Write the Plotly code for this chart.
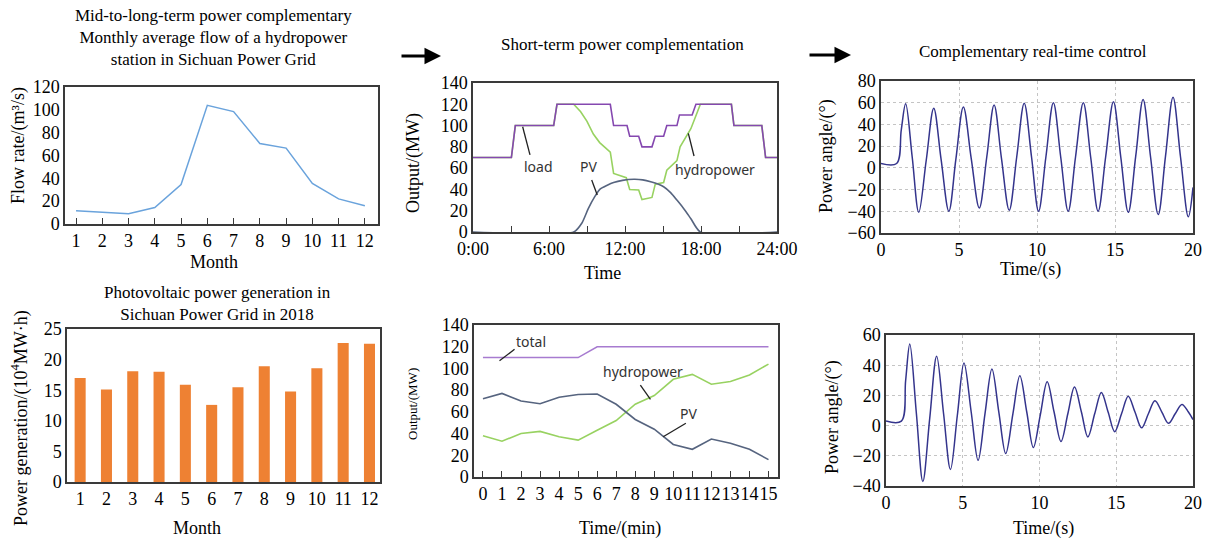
import plotly.graph_objects as go

W, H = 1208, 540

# ---------------- data ----------------
months = list(range(1, 13))
flow_rate = [11.5, 10, 9, 14.5, 34.5, 104, 98.5, 70.5, 66.5, 35.5, 22, 16]

pv_gen = [17.0, 15.1, 18.1, 18.0, 15.9, 12.6, 15.5, 18.9, 14.8, 18.6, 22.7, 22.6]

load_t = [0, 3.03, 3.34, 6.37, 6.63, 10.84, 11.1, 12.16, 12.37, 13.08, 13.34, 14.13, 14.39,
          15.05, 15.3, 16.1, 16.3, 17.3, 17.6, 20.4, 20.6, 22.8, 23.1, 24]
load_v = [70, 70, 100, 100, 120, 120, 100, 100, 90, 90, 80, 80, 90,
          90, 100, 100, 110, 110, 120, 120, 100, 100, 70, 70]

hydro_t = [0, 3.03, 3.34, 6.37, 6.63, 7.95, 8.5, 9.0, 9.5, 10.0, 10.84, 11.1, 12.1, 12.37,
           13.08, 13.34, 14.13, 14.39, 15.05, 15.3, 16.1, 16.35, 17.2, 17.55, 17.95, 20.4,
           20.6, 22.8, 23.1, 24]
hydro_v = [70, 70, 100, 100, 120, 120, 113, 104, 92, 84, 75, 55, 51, 40,
           39.5, 30.5, 32.5, 45, 46.5, 58, 67, 80, 97, 108, 120, 120,
           100, 100, 70, 70]

pv_t = [0, 7.95, 8.6, 9.1, 9.6, 10.05, 10.6, 11.1, 11.8, 12.7, 13.4, 14.1, 14.6, 15.05,
        15.6, 16.1, 16.7, 17.2, 17.95, 24]
pv_v = [0, 0, 8.5, 22, 33, 40.5, 44, 46.5, 48.5, 49.5, 49, 47, 45, 42.5,
        37, 30, 21, 12.5, 0, 0]

angle1_t = [0, 1.0, 1.3, 1.58, 2.0, 2.42, 2.9, 3.38, 3.85, 4.35, 4.8, 5.28, 5.78, 6.3, 6.78,
            7.25, 7.72, 8.22, 8.7, 9.18, 9.65, 10.1, 10.57, 11.05, 11.52, 12.0, 12.47, 12.97,
            13.44, 13.92, 14.4, 14.9, 15.37, 15.85, 16.33, 16.8, 17.28, 17.77, 18.24, 18.72,
            19.2, 19.7, 20]
angle1_v = [4, 4, 35, 59, 10, -41, 7, 55, 8, -40, 8, 56, 9, -37, 10,
            58, 9, -39, 10, 59.5, 10, -40, 10, 60, 10, -40, 10, 60,
            10, -40, 10, 61, 10, -41, 11, 63, 10, -43, 11, 65,
            10, -45, -18]

angle2_t = [0, 1.0, 1.28, 1.55, 1.98, 2.4, 2.85, 3.3, 3.75, 4.2, 4.65, 5.08, 5.55, 6.0, 6.45,
            6.9, 7.35, 7.8, 8.27, 8.72, 9.17, 9.6, 10.05, 10.5, 10.95, 11.4, 11.85, 12.28,
            12.73, 13.15, 13.6, 14.03, 14.47, 14.9, 15.35, 15.78, 16.22, 16.65, 17.1, 17.52,
            17.97, 18.4, 18.85, 19.28, 19.7, 20]
angle2_v = [3, 3, 30, 54, 8, -37, 5, 46, 8, -29, 7, 41.5, 9, -23, 8,
            37.5, 9, -18.5, 8, 33, 9, -14.5, 7, 29, 9, -10.5, 8, 25.5,
            9, -7.5, 8, 22, 9, -4, 8, 19.5, 9, -1.5, 8, 16.5,
            9, 1.5, 8, 14, 9, 4]

min_t = list(range(16))
total_v = [110, 110, 110, 110, 110, 110, 120, 120, 120, 120, 120, 120, 120, 120, 120, 120]
hydro2_v = [38, 33, 40, 42, 37, 34, 43, 52, 67, 75, 90, 94.5, 85.5, 88, 94, 104]
pv2_v = [72, 77, 70, 67.5, 73.5, 76, 76.5, 67, 53, 44, 30, 25.5, 35, 31, 25.5, 16]

hour_ticks = [0, 6, 12, 18, 24]
hour_labels = ["0:00", "6:00", "12:00", "18:00", "24:00"]

# ---------------- styles ----------------
SERIF = "Liberation Serif"
SANS = "Noto Sans"
AX = "#3a3a3a"
PURPLE = "#8548b0"
GREEN = "#98d261"
SLATE = "#56647f"
NAVY = "#34348c"


def xd(a, b):
    return [a / W, b / W]


def yd(top, bottom):
    return [1 - bottom / H, 1 - top / H]


def base_axis(**kw):
    d = dict(showline=True, linecolor=AX, linewidth=1.5, mirror=True, automargin=False,
             showgrid=False, zeroline=False, ticks="", tickangle=0,
             tickfont=dict(family=SERIF, size=18, color="#000"))
    d.update(kw)
    return d


fig = go.Figure()

# Panel 1
fig.add_trace(go.Scatter(x=months, y=flow_rate, mode="lines",
                         line=dict(color="#6aa3dc", width=1.5), xaxis="x", yaxis="y"))
# Panel 2
fig.add_trace(go.Scatter(x=hydro_t, y=hydro_v, mode="lines",
                         line=dict(color=GREEN, width=1.6), xaxis="x2", yaxis="y2"))
fig.add_trace(go.Scatter(x=load_t, y=load_v, mode="lines",
                         line=dict(color=PURPLE, width=1.6), xaxis="x2", yaxis="y2"))
fig.add_trace(go.Scatter(x=pv_t, y=pv_v, mode="lines",
                         line=dict(color=SLATE, width=1.6, shape="spline", smoothing=0.6),
                         xaxis="x2", yaxis="y2"))
# Panel 3
fig.add_trace(go.Scatter(x=angle1_t, y=angle1_v, mode="lines",
                         line=dict(color=NAVY, width=1.5, shape="spline", smoothing=1.0),
                         xaxis="x3", yaxis="y3"))
# Panel 4
fig.add_trace(go.Bar(x=months, y=pv_gen, marker=dict(color="#ee8133", line=dict(width=0)),
                     width=0.42, xaxis="x4", yaxis="y4"))
# Panel 5
fig.add_trace(go.Scatter(x=min_t, y=total_v, mode="lines",
                         line=dict(color="#a77bd0", width=1.6), xaxis="x5", yaxis="y5"))
fig.add_trace(go.Scatter(x=min_t, y=hydro2_v, mode="lines",
                         line=dict(color=GREEN, width=1.6), xaxis="x5", yaxis="y5"))
fig.add_trace(go.Scatter(x=min_t, y=pv2_v, mode="lines",
                         line=dict(color=SLATE, width=1.6), xaxis="x5", yaxis="y5"))
# Panel 6
fig.add_trace(go.Scatter(x=angle2_t, y=angle2_v, mode="lines",
                         line=dict(color=NAVY, width=1.5, shape="spline", smoothing=1.0),
                         xaxis="x6", yaxis="y6"))

grid = dict(showgrid=True, gridcolor="#c4c4c4", griddash="dot", gridwidth=1)

fig.update_layout(
    template="none",
    width=W, height=H, margin=dict(l=0, r=0, t=0, b=0, autoexpand=False),
    paper_bgcolor="white", plot_bgcolor="white", showlegend=False,
    xaxis=base_axis(domain=xd(65, 378), anchor="y", range=[0.58, 12.5],
                    tickvals=months, ticks="inside", ticklen=6, tickcolor=AX),
    yaxis=base_axis(domain=yd(87, 224), anchor="x", range=[0, 120], dtick=20),
    xaxis2=base_axis(domain=xd(473, 777), anchor="y2", range=[0, 24],
                     tickvals=hour_ticks, ticktext=hour_labels,
                     ticks="inside", ticklen=6, tickcolor=AX,
                     minor=dict(tickvals=[3, 9, 15, 21], ticks="inside", ticklen=6, tickcolor=AX)),
    yaxis2=base_axis(domain=yd(83, 232), anchor="x2", range=[0, 140], dtick=20),
    xaxis3=base_axis(domain=xd(881, 1193), anchor="y3", range=[0, 20], dtick=5, **grid),
    yaxis3=base_axis(domain=yd(81, 233), anchor="x3", range=[-60, 80], dtick=20, **grid),
    xaxis4=base_axis(domain=xd(67, 380), anchor="y4", range=[0.5, 12.4], tickvals=months),
    yaxis4=base_axis(domain=yd(329, 482), anchor="x4", range=[0, 25], dtick=5),
    xaxis5=base_axis(domain=xd(474, 778), anchor="y5", range=[-0.47, 15.5], tickvals=min_t,
                     ticks="inside", ticklen=6, tickcolor=AX),
    yaxis5=base_axis(domain=yd(325, 477), anchor="x5", range=[0, 140], dtick=20),
    xaxis6=base_axis(domain=xd(886, 1193), anchor="y6", range=[0, 20], dtick=5, **grid),
    yaxis6=base_axis(domain=yd(335, 486), anchor="x6", range=[-40, 60], dtick=20, **grid),
)

anns = []


def text_px(px, py, text, size=18, angle=0, family=SERIF):
    anns.append(dict(x=px / W, y=1 - py / H, xref="paper", yref="paper", text=text,
                     showarrow=False, textangle=angle, xanchor="center", yanchor="middle",
                     font=dict(family=family, size=size, color="#000")))


# titles
text_px(213, 37, "Mid-to-long-term power complementary<br>Monthly average flow of a hydropower<br>station in Sichuan Power Grid", 17)
text_px(622, 44, "Short-term power complementation", 17)
text_px(1033, 51, "Complementary real-time control", 17)
text_px(217, 303, "Photovoltaic power generation in<br>Sichuan Power Grid in 2018", 17)

# axis titles
text_px(18, 146, "Flow rate/(m³/s)", 18, -90)
text_px(214, 262, "Month", 18)
text_px(414, 163, "Output/(MW)", 18, -90)
text_px(602, 273, "Time", 18)
text_px(827, 156, "Power angle/(°)", 18, -90)
text_px(1030, 269, "Time/(s)", 18)
text_px(20, 418, "Power generation/(10<sup>4</sup>MW·h)", 18, -90)
text_px(197, 528, "Month", 18)
text_px(412, 404, "Output/(MW)", 13, -90)
text_px(620, 528, "Time/(min)", 18)
text_px(832, 417, "Power angle/(°)", 18, -90)
text_px(1043, 528, "Time/(s)", 18)


def label(xref, yref, x, y, text):
    anns.append(dict(x=x, y=y, xref=xref, yref=yref, text=text, showarrow=False,
                     xanchor="center", yanchor="middle",
                     font=dict(family=SANS, size=14, color="#333")))


label("x2", "y2", 5.16, 61.4, "load")
label("x2", "y2", 9.1, 61.4, "PV")
label("x2", "y2", 19.1, 58.3, "hydropower")
label("x5", "y5", 2.54, 124.6, "total")
label("x5", "y5", 8.41, 97, "hydropower")
label("x5", "y5", 10.78, 58.7, "PV")

# arrows
for x0, x1, yy in [(400, 441, 56), (808, 851, 55)]:
    anns.append(dict(x=x1 / W, y=1 - yy / H, xref="paper", yref="paper",
                     ax=-(x1 - x0), ay=0, axref="pixel", ayref="pixel",
                     text="", showarrow=True, arrowhead=2, arrowsize=1.1,
                     arrowwidth=3, arrowcolor="#000"))

fig.update_layout(annotations=anns)

# leader lines
shapes = []
for xr, yr, x0, y0, x1, y1 in [
    ("x2", "y2", 3.92, 98.9, 4.5, 72.4),
    ("x2", "y2", 9.37, 48.9, 9.81, 34.8),
    ("x2", "y2", 17.0, 92.7, 17.45, 71.4),
    ("x5", "y5", 0.87, 107, 1.66, 117.6),
    ("x5", "y5", 8.27, 84.7, 8.8, 71.6),
    ("x5", "y5", 10.66, 49.5, 9.47, 37.1),
]:
    shapes.append(dict(type="line", xref=xr, yref=yr, x0=x0, y0=y0, x1=x1, y1=y1,
                       line=dict(color="#222", width=1.3)))
fig.update_layout(shapes=shapes)

fig.write_html("out.html", config={"displayModeBar": False},
               post_script="document.body.style.margin='0';document.body.style.overflow='hidden';")
